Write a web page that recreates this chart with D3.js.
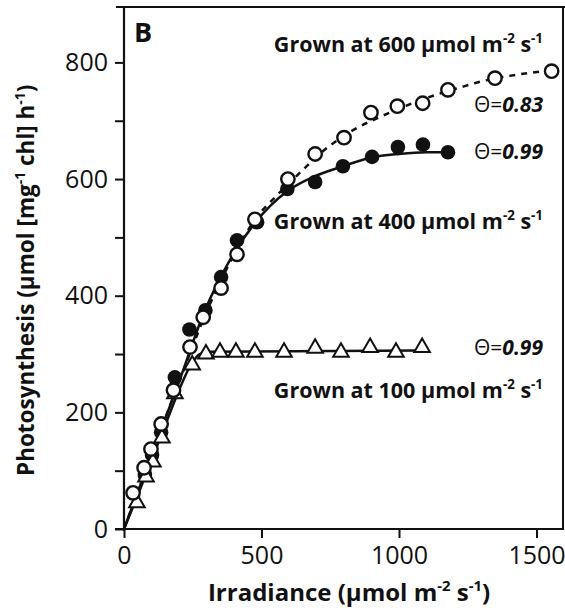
<!DOCTYPE html>
<html>
<head>
<meta charset="utf-8">
<script src="https://cdn.jsdelivr.net/npm/d3@7"></script>
<style>
  html, body { margin: 0; padding: 0; background: #fff; }
  svg text { font-family: "Open Sans", "Noto Sans", sans-serif; fill: #111; }
</style>
</head>
<body>
<svg id="chart" width="565" height="613"></svg>
<script>
// ---- data ----
const xTicks = [0, 500, 1000, 1500];
const yTicks = [0, 200, 400, 600, 800];
const yMinorTicks = [100, 300, 500, 700];

// Grown at 600 (open circles, dashed fit, Θ=0.83)
const open600X = [33, 73, 98, 135, 180, 240, 288, 353, 411, 476, 596, 695, 800, 898, 994, 1086, 1178, 1349, 1555];
const open600Y = [62, 105, 137, 180, 238, 312, 363, 413, 471, 531, 600, 643, 671, 714, 725, 730, 753, 773, 785];
const fit600X = [0, 100, 200, 300, 400, 480, 556, 629, 724, 833, 924, 1033, 1131, 1222, 1305, 1429, 1555];
const fit600Y = [0, 127, 252, 372, 470, 533, 572, 606, 648, 684, 705, 727, 744, 757, 768, 779, 786];

// Grown at 400 (filled circles, solid fit, Θ=0.99)
const fill400X = [76, 102, 135, 185, 238, 296, 353, 411, 484, 594, 695, 796, 902, 996, 1087, 1178];
const fill400Y = [93, 127, 166, 260, 342, 375, 432, 495, 526, 583, 595, 622, 638, 655, 659, 646];
const fit400X = [0, 100, 200, 290, 385, 470, 596, 690, 790, 900, 1000, 1100, 1178];
const fit400Y = [0, 127, 252, 370, 461, 521, 580, 604, 621, 637, 643, 646, 646];

// Grown at 100 (open triangles, solid fit, Θ=0.99)
const tri100X = [47, 80, 105, 138, 185, 248, 298, 349, 407, 476, 582, 695, 789, 895, 989, 1084];
const tri100Y = [45, 89, 115, 156, 232, 281, 300, 303, 303, 303, 303, 310, 303, 311, 303, 311];
const fit100X = [0, 50, 100, 150, 200, 245, 275, 310, 1084];
const fit100Y = [0, 58, 118, 178, 238, 283, 300, 304, 306];

const zip = (xs, ys) => xs.map((x, i) => [x, ys[i]]);

// ---- layout ----
const svg = d3.select("#chart");
const x = d3.scaleLinear().domain([0, 1600]).range([124, 564]);
const y = d3.scaleLinear().domain([0, 895]).range([529, 7]);
const INK = "#111";

// frame: top and right
svg.append("line").attr("x1", 116).attr("x2", 565).attr("y1", 7).attr("y2", 7)
  .attr("stroke", INK).attr("stroke-width", 2);
svg.append("line").attr("x1", 563).attr("x2", 563).attr("y1", 7).attr("y2", 529)
  .attr("stroke", INK).attr("stroke-width", 2);

// y axis
const yAxis = svg.append("g").attr("transform", "translate(124,0)")
  .call(d3.axisLeft(y).tickValues(yTicks).tickSize(9).tickPadding(7).tickFormat(d3.format("d")));
svg.append("g").attr("transform", "translate(124,0)")
  .call(d3.axisLeft(y).tickValues(yMinorTicks).tickSize(9).tickFormat(""));

// x axis
const xAxis = svg.append("g").attr("transform", "translate(0,529)")
  .call(d3.axisBottom(x).tickValues(xTicks).tickSize(9).tickPadding(8).tickFormat(d3.format("d")));

[yAxis, xAxis].forEach(g => {
  g.selectAll("text").attr("font-size", 25).attr("fill", INK)
    .style("font-family", '"Open Sans", sans-serif');
});
svg.selectAll(".tick line").attr("stroke", INK).attr("stroke-width", 2);
svg.selectAll(".domain").remove();
svg.append("line").attr("x1", 124).attr("x2", 124).attr("y1", 7).attr("y2", 531)
  .attr("stroke", INK).attr("stroke-width", 2.2);
svg.append("line").attr("x1", 115).attr("x2", 564).attr("y1", 529).attr("y2", 529)
  .attr("stroke", INK).attr("stroke-width", 2.2);

// axis titles
const sup = (sel, t) => sel.append("tspan").attr("baseline-shift", "super").attr("font-size", "62%").text(t);
const xt = svg.append("text").attr("x", 349).attr("y", 601).attr("text-anchor", "middle")
  .attr("font-size", 24).attr("font-weight", "bold");
xt.append("tspan").text("Irradiance (\u00b5mol m");
sup(xt, "-2");
xt.append("tspan").text(" s");
sup(xt, "-1");
xt.append("tspan").text(")");

const yt = svg.append("text").attr("transform", "translate(34,0) rotate(-90)")
  .attr("x", -476).attr("y", 0)
  .attr("text-anchor", "start").attr("font-size", 22.5).attr("font-weight", "bold");
yt.append("tspan").text("Photosynthesis (\u00b5mol [mg");
sup(yt, "-1");
yt.append("tspan").text(" chl] h");
sup(yt, "-1");
yt.append("tspan").text(")");

// ---- curves ----
const line = d3.line().x(d => x(d[0])).y(d => y(d[1])).curve(d3.curveMonotoneX);
svg.append("path").datum(zip(fit600X, fit600Y)).attr("d", line)
  .attr("fill", "none").attr("stroke", INK).attr("stroke-width", 2.5).attr("stroke-dasharray", "6,6");
svg.append("path").datum(zip(fit400X, fit400Y)).attr("d", line)
  .attr("fill", "none").attr("stroke", INK).attr("stroke-width", 2.5);
svg.append("path").datum(zip(fit100X, fit100Y)).attr("d", line)
  .attr("fill", "none").attr("stroke", INK).attr("stroke-width", 2.5);

// ---- markers ----
svg.append("g").selectAll("circle").data(zip(fill400X, fill400Y)).join("circle")
  .attr("cx", d => x(d[0])).attr("cy", d => y(d[1])).attr("r", 7.3).attr("fill", INK);

const tri = d3.symbol().type(d3.symbolTriangle).size(105);
svg.append("g").selectAll("path").data(zip(tri100X, tri100Y)).join("path")
  .attr("transform", d => `translate(${x(d[0])},${y(d[1])})`).attr("d", tri)
  .attr("fill", "#fff").attr("stroke", INK).attr("stroke-width", 2);

svg.append("g").selectAll("circle").data(zip(open600X, open600Y)).join("circle")
  .attr("cx", d => x(d[0])).attr("cy", d => y(d[1])).attr("r", 6.7)
  .attr("fill", "#fff").attr("stroke", INK).attr("stroke-width", 2.4);

// ---- annotations ----
svg.append("text").attr("x", 134).attr("y", 42).attr("font-size", 27).attr("font-weight", "bold").text("B");

function grown(level, yy) {
  const t = svg.append("text").attr("x", 543).attr("y", yy).attr("text-anchor", "end")
    .attr("font-size", 21.5).attr("font-weight", "bold");
  t.append("tspan").text("Grown at " + level + " \u00b5mol m");
  sup(t, "-2");
  t.append("tspan").text(" s");
  sup(t, "-1");
}
grown(600, 52);
grown(400, 229);
grown(100, 398);

function theta(val, yy) {
  const t = svg.append("text").attr("x", 543).attr("y", yy).attr("text-anchor", "end").attr("font-size", 21);
  t.append("tspan").text("\u0398=");
  t.append("tspan").attr("font-weight", "bold").attr("font-style", "italic").text(val);
}
theta("0.83", 112);
theta("0.99", 159);
theta("0.99", 355);
</script>
</body>
</html>
